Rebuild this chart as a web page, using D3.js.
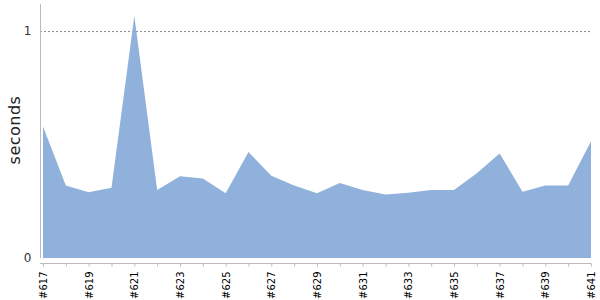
<!DOCTYPE html>
<html>
<head>
<meta charset="utf-8">
<script src="https://cdn.jsdelivr.net/npm/d3@7"></script>
<style>
  body { margin: 0; background: #fff; }
  svg { display: block; font-family: "DejaVu Sans", sans-serif; }
</style>
</head>
<body>
<svg width="600" height="300"></svg>
<script>
// build numbers and their durations (seconds)
var builds = ["#617", "#618", "#619", "#620", "#621", "#622", "#623", "#624", "#625",
    "#626", "#627", "#628", "#629", "#630", "#631", "#632", "#633", "#634", "#635",
    "#636", "#637", "#638", "#639", "#640", "#641"];
var durations = [0.58, 0.32, 0.29, 0.31, 1.066, 0.30, 0.36, 0.35, 0.285,
    0.467, 0.362, 0.32, 0.285, 0.33, 0.30, 0.28, 0.288, 0.30, 0.30,
    0.373, 0.46, 0.292, 0.32, 0.32, 0.515];
var yTicks = [0, 1];

var svg = d3.select("svg");

var x = d3.scalePoint()
    .domain(builds)
    .range([43, 591]);

var y = d3.scaleLinear()
    .domain([0, d3.max(durations) * 1.05])
    .range([258, 4]);

var data = builds.map(function (b, i) { return { build: b, value: durations[i] }; });

// dashed grid line at each y tick above zero
svg.selectAll(".grid")
    .data(yTicks.filter(function (t) { return t > 0; }))
    .enter().append("line")
    .attr("class", "grid")
    .attr("x1", 40).attr("x2", 591)
    .attr("y1", function (d) { return y(d) + 0.5; })
    .attr("y2", function (d) { return y(d) + 0.5; })
    .attr("stroke", "#888")
    .attr("stroke-dasharray", "2,2");

var area = d3.area()
    .x(function (d) { return x(d.build); })
    .y0(y(0))
    .y1(function (d) { return y(d.value); });

svg.append("path")
    .datum(data)
    .attr("d", area)
    .attr("fill", "#8fb1db");

// y axis
var yAxis = d3.axisLeft(y)
    .tickValues(yTicks)
    .tickFormat(d3.format("d"))
    .tickSize(0)
    .tickPadding(9);

var gy = svg.append("g")
    .attr("transform", "translate(40.5,0)")
    .call(yAxis);
gy.select(".domain").attr("stroke", "#bbb").attr("d", "M0,4V258");
gy.selectAll("text").attr("fill", "#333").style("font-size", "12px")
    .style("font-family", "DejaVu Sans, sans-serif");

// x axis
var xAxis = d3.axisBottom(x)
    .tickSize(3)
    .tickPadding(6)
    .tickFormat(function (d, i) { return i % 2 === 0 ? d : ""; });

var gx = svg.append("g")
    .attr("transform", "translate(0,263.5)")
    .call(xAxis);
gx.select(".domain").attr("stroke", "#bbb").attr("d", "M40,0H591");
gx.selectAll(".tick line").attr("stroke", "#bbb");
gx.selectAll("text")
    .attr("fill", "#000")
    .style("font-size", "10px")
    .style("font-family", "DejaVu Sans, sans-serif")
    .attr("transform", "rotate(-90)")
    .attr("text-anchor", "end")
    .attr("x", -8)
    .attr("y", 0)
    .attr("dy", "0.35em");

// y axis title
svg.append("text")
    .attr("transform", "translate(19.5,130) rotate(-90)")
    .attr("text-anchor", "middle")
    .attr("fill", "#222")
    .style("font-size", "16px")
    .style("letter-spacing", "0.5px")
    .text("seconds");
</script>
</body>
</html>
